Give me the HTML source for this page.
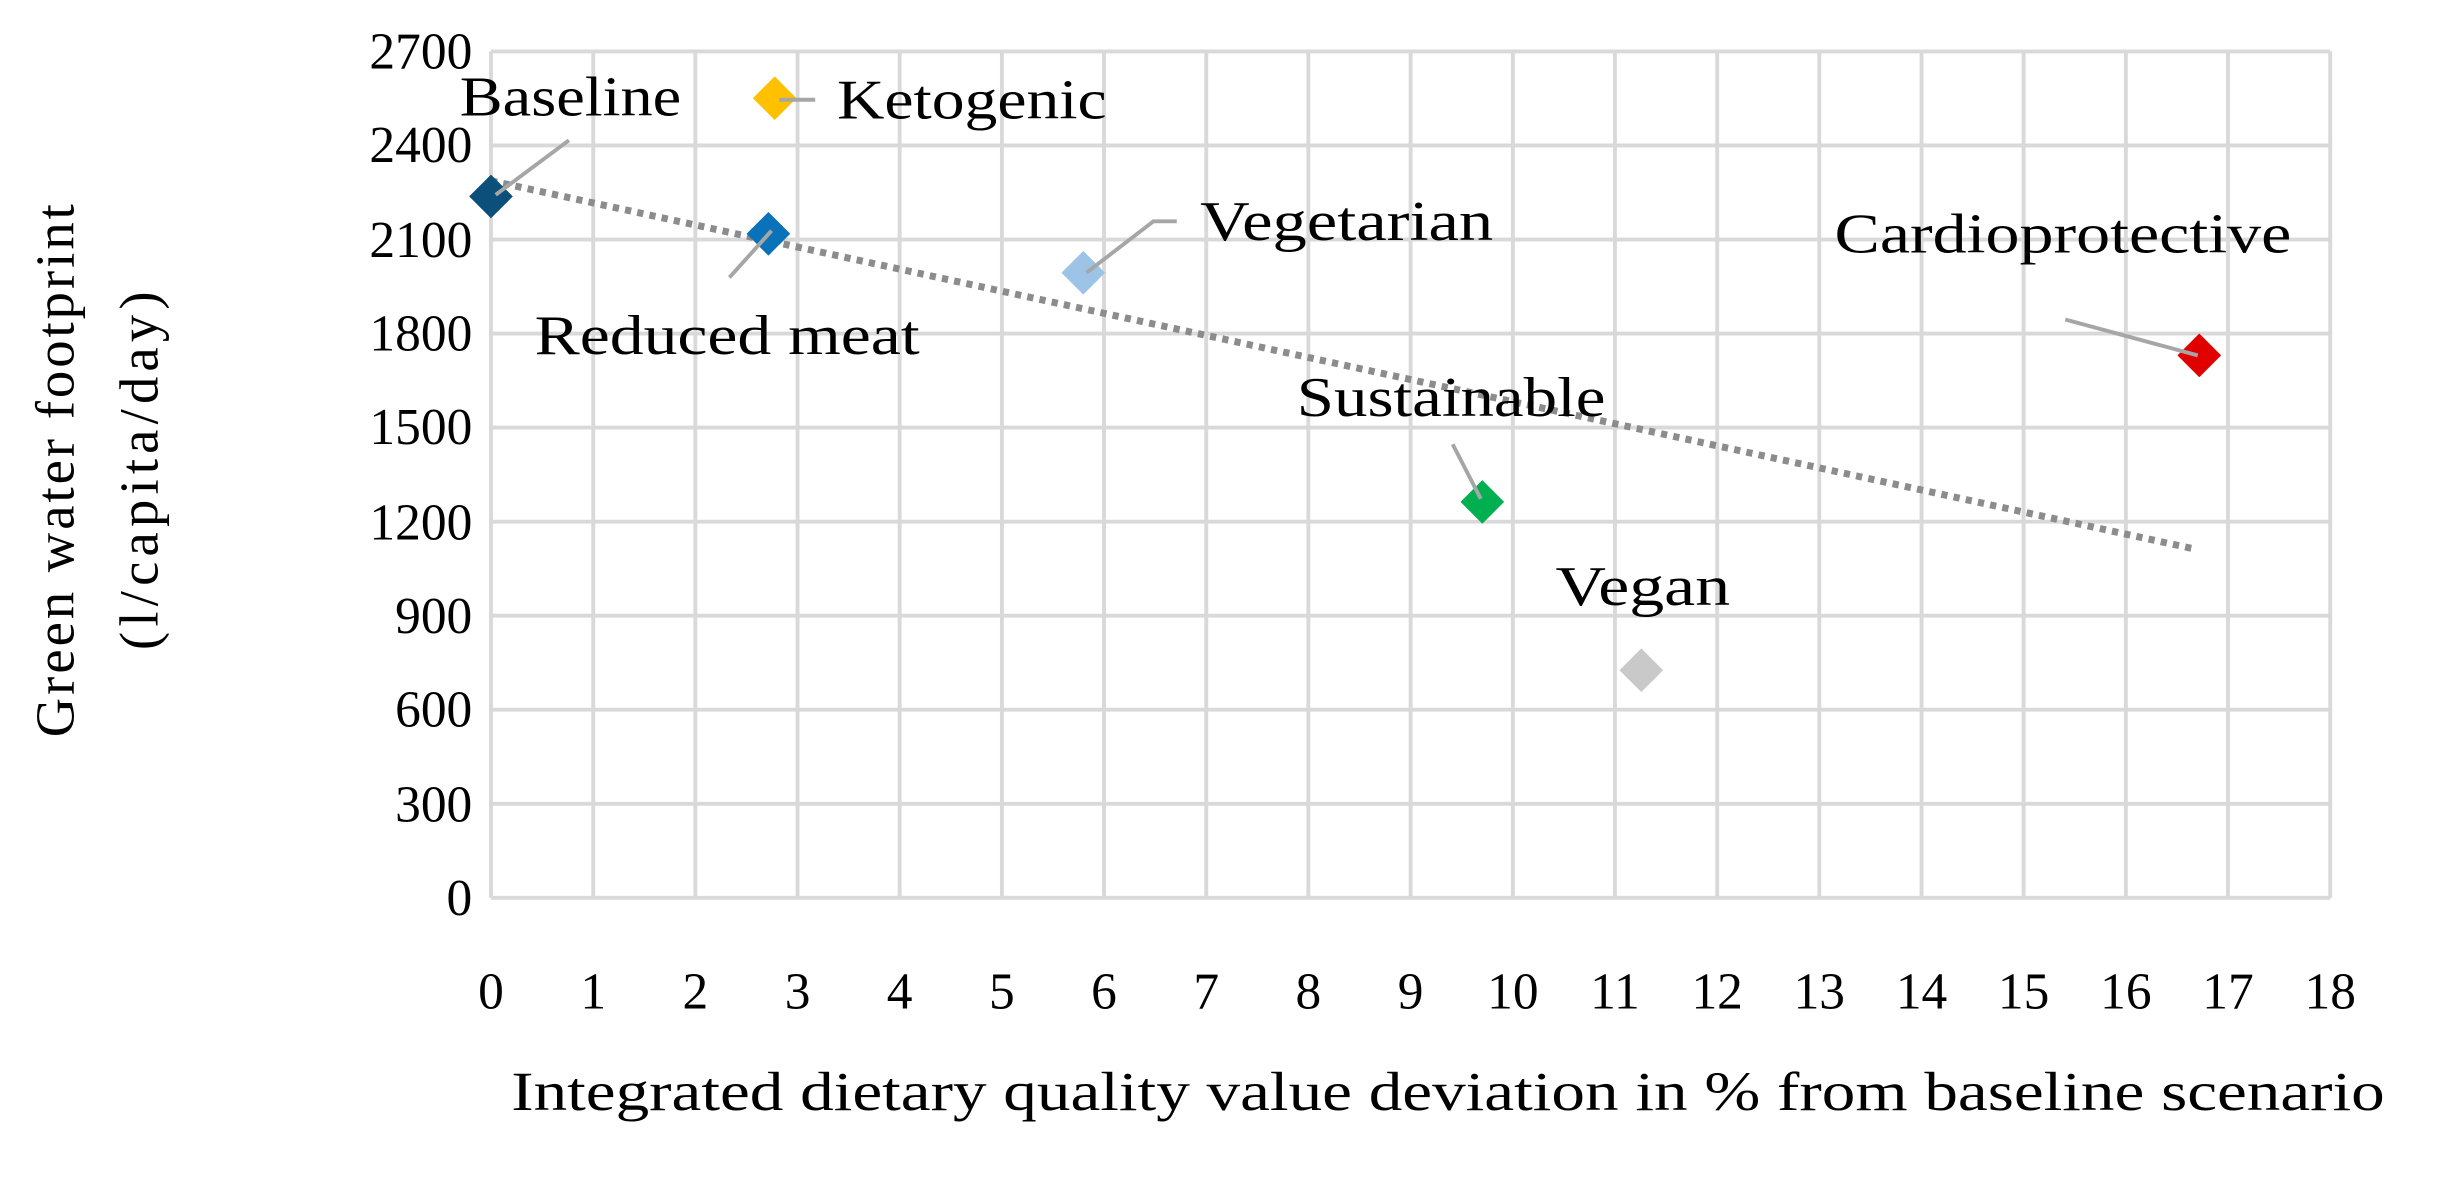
<!DOCTYPE html>
<html><head><meta charset="utf-8"><style>html,body{margin:0;padding:0;background:#fff;}svg{display:block}</style></head>
<body>
<svg width="2444" height="1179" viewBox="0 0 1568 756.4" preserveAspectRatio="none" xmlns="http://www.w3.org/2000/svg" font-family="'Liberation Serif', serif" fill="#000">
<g stroke="#d9d9d9" stroke-width="2.5">
<line x1="315" y1="33" x2="1495" y2="33"/><line x1="315" y1="93.3" x2="1495" y2="93.3"/><line x1="315" y1="153.7" x2="1495" y2="153.7"/><line x1="315" y1="214" x2="1495" y2="214"/><line x1="315" y1="274.3" x2="1495" y2="274.3"/><line x1="315" y1="334.7" x2="1495" y2="334.7"/><line x1="315" y1="395" x2="1495" y2="395"/><line x1="315" y1="455.3" x2="1495" y2="455.3"/><line x1="315" y1="515.7" x2="1495" y2="515.7"/><line x1="315" y1="576" x2="1495" y2="576"/>
<line x1="315" y1="33" x2="315" y2="576"/><line x1="380.6" y1="33" x2="380.6" y2="576"/><line x1="446.1" y1="33" x2="446.1" y2="576"/><line x1="511.7" y1="33" x2="511.7" y2="576"/><line x1="577.2" y1="33" x2="577.2" y2="576"/><line x1="642.8" y1="33" x2="642.8" y2="576"/><line x1="708.3" y1="33" x2="708.3" y2="576"/><line x1="773.9" y1="33" x2="773.9" y2="576"/><line x1="839.4" y1="33" x2="839.4" y2="576"/><line x1="905" y1="33" x2="905" y2="576"/><line x1="970.6" y1="33" x2="970.6" y2="576"/><line x1="1036.1" y1="33" x2="1036.1" y2="576"/><line x1="1101.7" y1="33" x2="1101.7" y2="576"/><line x1="1167.2" y1="33" x2="1167.2" y2="576"/><line x1="1232.8" y1="33" x2="1232.8" y2="576"/><line x1="1298.3" y1="33" x2="1298.3" y2="576"/><line x1="1363.9" y1="33" x2="1363.9" y2="576"/><line x1="1429.4" y1="33" x2="1429.4" y2="576"/><line x1="1495" y1="33" x2="1495" y2="576"/>
</g>
<g font-size="33" text-anchor="end">
<text x="303" y="44">2700</text><text x="303" y="104">2400</text><text x="303" y="165">2100</text><text x="303" y="225">1800</text><text x="303" y="285">1500</text><text x="303" y="346">1200</text><text x="303" y="406">900</text><text x="303" y="466">600</text><text x="303" y="527">300</text><text x="303" y="587">0</text>
</g>
<g font-size="33" text-anchor="middle">
<text x="315" y="647">0</text><text x="380.6" y="647">1</text><text x="446.1" y="647">2</text><text x="511.7" y="647">3</text><text x="577.2" y="647">4</text><text x="642.8" y="647">5</text><text x="708.3" y="647">6</text><text x="773.9" y="647">7</text><text x="839.4" y="647">8</text><text x="905" y="647">9</text><text x="970.6" y="647">10</text><text x="1036.1" y="647">11</text><text x="1101.7" y="647">12</text><text x="1167.2" y="647">13</text><text x="1232.8" y="647">14</text><text x="1298.3" y="647">15</text><text x="1363.9" y="647">16</text><text x="1429.4" y="647">17</text><text x="1495" y="647">18</text>
</g>
<text x="328" y="712" font-size="35" textLength="1202" lengthAdjust="spacingAndGlyphs">Integrated dietary quality value deviation in % from baseline scenario</text>
<text transform="translate(47,302) rotate(-90)" font-size="35" text-anchor="middle" textLength="342" lengthAdjust="spacing">Green water footprint</text>
<text transform="translate(101,302) rotate(-90)" font-size="35" text-anchor="middle" textLength="230" lengthAdjust="spacing">(l/capita/day)</text>
<line x1="315" y1="116" x2="1407" y2="352" stroke="#8c8c8c" stroke-width="4.5" stroke-dasharray="4 4" />
<g>
<polygon points="315,112 329,126 315,140 301,126" fill="#0b4f7a"/>
<polygon points="493,136 507,150 493,164 479,150" fill="#0a72b8"/>
<polygon points="497,49 511,63 497,77 483,63" fill="#ffc000"/>
<polygon points="695,161 709,175 695,189 681,175" fill="#9dc3e6"/>
<polygon points="951,308 965,322 951,336 937,322" fill="#00b050"/>
<polygon points="1053,416 1067,430 1053,444 1039,430" fill="#c9c9c9"/>
<polygon points="1411,214 1425,228 1411,242 1397,228" fill="#e00000"/>
</g>
<g stroke="#a6a6a6" stroke-width="2.5" fill="none">
<polyline points="365,90 318,125"/><polyline points="500,64 523,64"/><polyline points="755,142 740,142 697,175"/><polyline points="468,178 495,148"/><polyline points="932,285 950,320"/><polyline points="1325,205 1410,228"/>
</g>
<g font-size="36">
<text x="295" y="74" textLength="142" lengthAdjust="spacingAndGlyphs">Baseline</text>
<text x="537" y="76" textLength="173" lengthAdjust="spacingAndGlyphs">Ketogenic</text>
<text x="770" y="154" textLength="188" lengthAdjust="spacingAndGlyphs">Vegetarian</text>
<text x="1177" y="162" textLength="293" lengthAdjust="spacingAndGlyphs">Cardioprotective</text>
<text x="343" y="227" textLength="247" lengthAdjust="spacingAndGlyphs">Reduced meat</text>
<text x="832" y="267" textLength="198" lengthAdjust="spacingAndGlyphs">Sustainable</text>
<text x="998" y="388" textLength="112" lengthAdjust="spacingAndGlyphs">Vegan</text>
</g>
</svg>
</body></html>
